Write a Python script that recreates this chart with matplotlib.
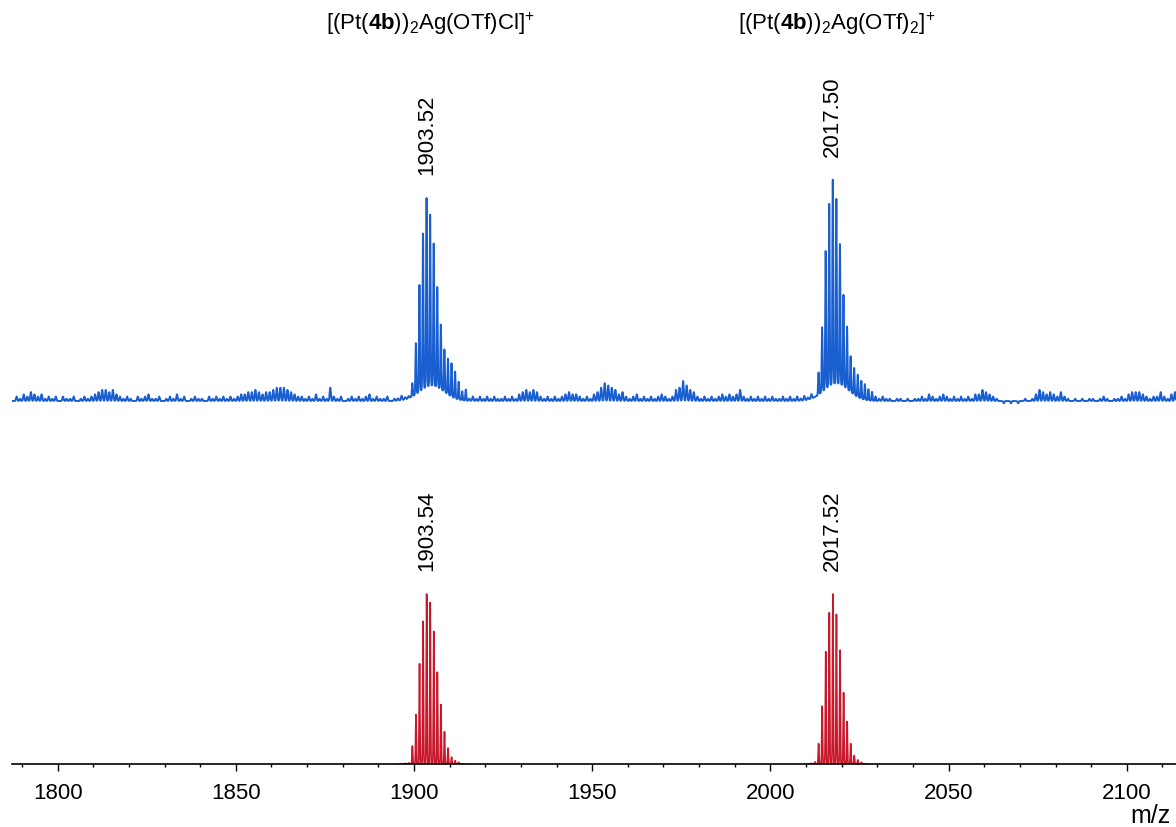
import numpy as np
import matplotlib.pyplot as plt

plt.rcParams['font.family'] = 'Liberation Sans'
plt.rcParams['mathtext.fontset'] = 'custom'
plt.rcParams['mathtext.rm'] = 'Liberation Sans'
plt.rcParams['mathtext.it'] = 'Liberation Sans:italic'
plt.rcParams['mathtext.bf'] = 'Liberation Sans:bold'

# ---- measured spectrum (relative intensity, % of base peak) ----
exp_a_mz = [1899.52, 1900.52, 1901.52, 1902.52, 1903.52, 1904.52, 1905.52, 1906.52,
            1907.52, 1908.52, 1909.52, 1910.52, 1911.52, 1912.52, 1913.52, 1914.52]
exp_a_int = [6, 23, 48, 70, 85, 77, 64, 45, 29, 19, 16, 15, 12, 8, 4, 5]

exp_b_mz = [2013.50, 2014.50, 2015.50, 2016.50, 2017.50, 2018.50, 2019.50, 2020.50,
            2021.50, 2022.50, 2023.50, 2024.50, 2025.50, 2026.50, 2027.50, 2028.50,
            2029.50]
exp_b_int = [10, 29, 62, 82, 92, 83, 63, 41, 28, 16, 12, 10, 8, 7, 5, 4, 2]

# unresolved hump under each isotope cluster
hump_mz = [1905.0, 2018.5]
hump_int = [7, 8]
hump_sd = [3.5, 3.5]

# chemical noise, one value per nominal mass from 1788 to 2113
noise_start = 1788
noise_int = [
    2, 1, 3, 2, 4, 3, 2, 3, 1, 2,
    1, 2, 0, 2, 1, 1, 2, 0, 1, 2,
    1, 2, 3, 4, 5, 5, 4, 5, 3, 2,
    1, 2, 1, 0, 2, 1, 2, 3, 1, 1,
    2, 0, 1, 2, 1, 3, 1, 2, 0, 1,
    2, 1, 1, 0, 2, 1, 2, 1, 2, 1,
    2, 1, 2, 3, 3, 4, 4, 5, 4, 3,
    4, 4, 5, 6, 6, 6, 5, 4, 3, 2,
    2, 1, 2, 1, 3, 1, 2, 1, 6, 2,
    1, 2, 0, 1, 2, 1, 2, 1, 2, 3,
    1, 2, 1, 1, 2, 0, 1, 1, 2, 1,
    1, 0, 0, 0, 0, 0, 0, 0, 0, 0,
    0, 0, 0, 0, 0, 0, 0, 1, 2, 1,
    2, 1, 2, 1, 2, 1, 1, 2, 1, 2,
    1, 3, 4, 5, 4, 5, 4, 2, 1, 2,
    1, 2, 1, 2, 3, 4, 3, 3, 2, 1,
    2, 1, 3, 4, 6, 8, 7, 6, 5, 3,
    4, 2, 1, 2, 3, 1, 2, 1, 2, 1,
    2, 3, 2, 1, 2, 5, 6, 9, 7, 5,
    4, 2, 1, 2, 1, 2, 1, 2, 3, 2,
    3, 2, 3, 5, 2, 1, 2, 1, 2, 1,
    2, 1, 2, 1, 1, 2, 1, 2, 1, 2,
    1, 2, 1, 2, 0, 0, 0, 0, 0, 0,
    0, 0, 0, 0, 0, 0, 0, 0, 0, 0,
    0, 0, 1, 2, 1, 1, 0, 1, 1, 0,
    1, 0, 1, 1, 2, 1, 3, 2, 1, 2,
    3, 2, 1, 2, 1, 2, 1, 2, 1, 3,
    3, 5, 4, 3, 2, 1, 0, -1, 0, -1,
    0, -1, 0, 1, 0, 1, 3, 5, 4, 3,
    4, 3, 2, 4, 2, 1, 0, 1, 0, 1,
    0, 1, 1, 0, 1, 2, 1, 0, 1, 1,
    2, 1, 3, 4, 4, 4, 3, 2, 1, 2,
    2, 4, 2, 1, 3, 4,
]

# ---- simulated isotope patterns (% of most intense line) ----
sim_a_mz = [1897.54, 1898.54, 1899.54, 1900.54, 1901.54, 1902.54, 1903.54, 1904.54,
            1905.54, 1906.54, 1907.54, 1908.54, 1909.54, 1910.54, 1911.54, 1912.54]
sim_a_int = [0.4, 0.6, 10.6, 29, 59, 84, 100, 95, 78, 54, 35, 19, 9.4, 4, 2, 1]

sim_b_mz = [2011.52, 2012.52, 2013.52, 2014.52, 2015.52, 2016.52, 2017.52, 2018.52,
            2019.52, 2020.52, 2021.52, 2022.52, 2023.52, 2024.52, 2025.52]
sim_b_int = [0.4, 1.2, 12, 34, 66, 89, 100, 88, 67, 42, 25, 12, 5, 2.4, 1]

labels_exp = [1903.52, 2017.50]
labels_sim = [1903.54, 2017.52]
ion_names = [r'[(Pt($\mathbf{4b}$))$_2$Ag(OTf)Cl]$^{+}$',
             r'[(Pt($\mathbf{4b}$))$_2$Ag(OTf)$_2$]$^{+}$']

x_min, x_max = 1787.2, 2113.8
EXP_BASE, EXP_SCALE, SIM_SCALE = 363, 2.22, 1.70
BLUE, RED = '#1a5fd0', '#c8182c'


def profile(x, centres, heights, sd):
    sd = np.broadcast_to(sd, len(centres))
    y = np.zeros_like(x)
    for c, h, s in zip(centres, heights, sd):
        y += h * np.exp(-0.5 * ((x - c) / s) ** 2)
    return y


x = np.arange(x_min - 1, x_max + 1, 0.01)
noise_mz = noise_start + 0.5 + np.arange(len(noise_int))
exp = (profile(x, exp_a_mz, exp_a_int, 0.12) + profile(x, exp_b_mz, exp_b_int, 0.12)
       + profile(x, hump_mz, hump_int, hump_sd) + profile(x, noise_mz, noise_int, 0.17))

fig = plt.figure(figsize=(11.76, 8.28), dpi=100)
ax = fig.add_axes([12 / 1176, 63 / 828, 1164 / 1176, 765 / 828])
ax.set_xlim(x_min, x_max)
ax.set_ylim(0, 765)

ax.plot(x, EXP_BASE + EXP_SCALE * exp, color=BLUE, lw=1.4)

for mz, inten in [(sim_a_mz, sim_a_int), (sim_b_mz, sim_b_int)]:
    xs = np.arange(mz[0] - 1.5, mz[-1] + 1.5, 0.01)
    ax.plot(xs, SIM_SCALE * profile(xs, mz, inten, 0.1), color=RED, lw=1.2)

# peak labels just above each maximum
for mz in labels_exp:
    top = EXP_BASE + EXP_SCALE * exp[np.abs(x - mz) < 0.3].max()
    ax.annotate(f'{mz:.2f}', (mz, top), xytext=(0, 24), textcoords='offset pixels',
                rotation=90, ha='center', va='bottom', fontsize=16)
for mz, sim_int in zip(labels_sim, [sim_a_int, sim_b_int]):
    top = SIM_SCALE * max(sim_int)
    ax.annotate(f'{mz:.2f}', (mz, top), xytext=(0, 24), textcoords='offset pixels',
                rotation=90, ha='center', va='bottom', fontsize=16)

for mz, name in zip(labels_exp, ion_names):
    ax.text(mz + 1, 741, name, ha='center', va='center', fontsize=16)

for s in ['top', 'left', 'right']:
    ax.spines[s].set_visible(False)
ax.spines['bottom'].set_linewidth(1.2)
ax.set_yticks([])
ax.set_xticks(np.arange(1800, 2101, 50))
ax.set_xticks(np.arange(1790, 2111, 10), minor=True)
ax.tick_params(axis='x', which='major', length=5, width=1, labelsize=16, pad=8)
ax.tick_params(axis='x', which='minor', length=2.5, width=1)
ax.text(0.995, -0.051, 'm/z', transform=ax.transAxes, ha='right', va='top', fontsize=18)

fig.savefig('out.png', dpi=100)
